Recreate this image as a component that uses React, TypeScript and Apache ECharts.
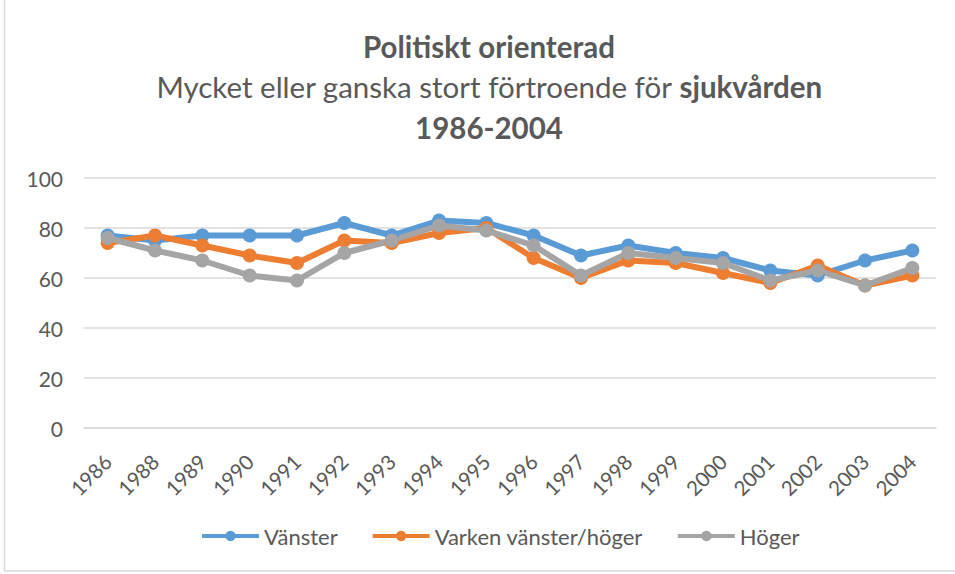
import React, { useEffect, useRef } from "react";
import * as echarts from "echarts";

const years = ["1986","1988","1989","1990","1991","1992","1993","1994","1995","1996","1997","1998","1999","2000","2001","2002","2003","2004"];
const vanster = [77,75,77,77,77,82,77,83,82,77,69,73,70,68,63,61,67,71];
const varken = [74,77,73,69,66,75,74,78,80,68,60,67,66,62,58,65,57,61];
const hoger = [76,71,67,61,59,70,75,81,79,73,61,70,68,66,59,63,57,64];
const seriesNames = ["Vänster", "Varken vänster/höger", "Höger"];
const colors = ["#5B9BD5", "#ED7D31", "#A5A5A5"];
const yTicks = { min: 0, max: 100, interval: 20 };
const titleLine1 = "Politiskt orienterad";
const titleLine2a = "Mycket eller ganska stort förtroende för ";
const titleLine2b = "sjukvården";
const titleLine3 = "1986-2004";

export default function App() {
  const ref = useRef<HTMLDivElement>(null);
  useEffect(() => {
    if (!ref.current) return;
    const chart = echarts.init(ref.current, null, { renderer: "svg" });
    const font = "Lato, 'Open Sans', sans-serif";
    const mk = (name: string, data: number[], color: string) => ({
      name,
      type: "line",
      data,
      symbol: "circle",
      symbolSize: 14,
      lineStyle: { width: 6, color },
      itemStyle: { color },
    });
    chart.setOption({
      animation: false,
      backgroundColor: "#fff",
      textStyle: { fontFamily: font },
      legend: {
        top: 520,
        left: 195,
        itemWidth: 57,
        itemHeight: 13,
        itemGap: 33,
        data: seriesNames,
        lineStyle: { width: 4 },
        textStyle: { fontSize: 22, color: "#595959", fontFamily: font },
      },
      grid: { left: 84, right: 19, top: 178, bottom: 146 },
      xAxis: {
        type: "category",
        data: years,
        axisLine: { lineStyle: { color: "#D9D9D9", width: 1.5 } },
        axisTick: { show: false },
        axisLabel: { rotate: 45, fontSize: 20.5, color: "#595959", margin: 30, fontFamily: font },
      },
      yAxis: {
        type: "value",
        min: yTicks.min,
        max: yTicks.max,
        interval: yTicks.interval,
        axisLine: { show: false },
        axisTick: { show: false },
        splitLine: { lineStyle: { color: "#D9D9D9", width: 1.5 } },
        axisLabel: { fontSize: 21, color: "#595959", margin: 21, fontFamily: font },
      },
      graphic: [
        { type: "line", shape: { x1: 4.5, y1: 0, x2: 4.5, y2: 571 }, style: { stroke: "#D9D9D9", lineWidth: 1.5 } },
        { type: "line", shape: { x1: 4.5, y1: 571, x2: 955, y2: 571 }, style: { stroke: "#D9D9D9", lineWidth: 1.5 } },
        {
          type: "text",
          x: 489,
          y: 26,
          style: {
            text: `{b|${titleLine1}}\n{n|${titleLine2a}}{b|${titleLine2b}}\n{b|${titleLine3}}`,
            align: "center",
            verticalAlign: "top",
            rich: {
              b: { fontSize: 29.5, fontWeight: "bold", fill: "#595959", lineHeight: 40.5, fontFamily: font },
              n: { fontSize: 29.5, fontWeight: "normal", fill: "#595959", lineHeight: 40.5, fontFamily: font },
            },
          },
        },
      ],
      series: [
        mk(seriesNames[0], vanster, colors[0]),
        mk(seriesNames[1], varken, colors[1]),
        mk(seriesNames[2], hoger, colors[2]),
      ],
    });
    return () => chart.dispose();
  }, []);
  return <div ref={ref} style={{ position: "fixed", left: 0, top: 0, width: 955, height: 574 }} />;
}
